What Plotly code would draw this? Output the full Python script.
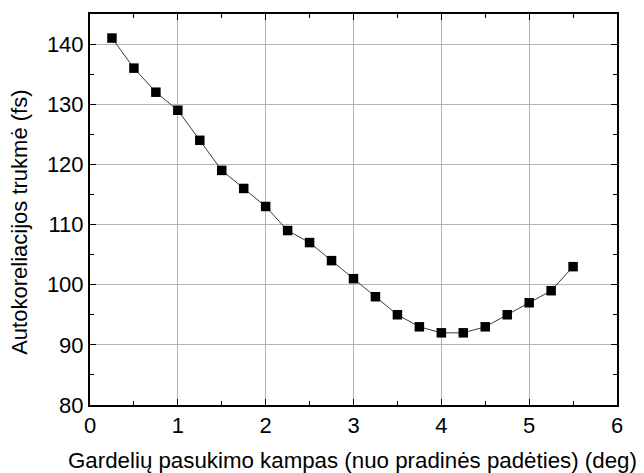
import plotly.graph_objects as go

# Grating rotation angle (deg) and measured autocorrelation duration (fs)
angle_deg = [0.25, 0.5, 0.75, 1.0, 1.25, 1.5, 1.75, 2.0, 2.25, 2.5, 2.75,
             3.0, 3.25, 3.5, 3.75, 4.0, 4.25, 4.5, 4.75, 5.0, 5.25, 5.5]
duration_fs = [141, 136, 132, 129, 124, 119, 116, 113, 109, 107, 104,
               101, 98, 95, 93, 92, 92, 93, 95, 97, 99, 103]

x_title = "Gardelių pasukimo kampas (nuo pradinės padėties) (deg)"
y_title = "Autokoreliacijos trukmė (fs)"

font = "Liberation Sans, Arial, sans-serif"

fig = go.Figure()
fig.add_trace(go.Scatter(
    x=angle_deg, y=duration_fs, mode="lines+markers",
    line=dict(color="#3a3a3a", width=1),
    marker=dict(symbol="square", size=9.5, color="black"),
    showlegend=False,
))

axis_common = dict(
    showline=True, linecolor="black", linewidth=2, mirror="ticks",
    ticks="inside", ticklen=6, tickwidth=1, tickcolor="black",
    showgrid=True, gridcolor="#b4b4b4", gridwidth=1,
    zeroline=False,
    tickfont=dict(family=font, size=22, color="black"),
)

fig.update_xaxes(
    range=[0, 6], dtick=1, tick0=0,
    minor=dict(dtick=0.5, ticks="inside", ticklen=4, tickcolor="black", showgrid=False),
    **axis_common,
)
fig.update_yaxes(
    range=[80, 145], dtick=10, tick0=80,
    minor=dict(dtick=5, ticks="inside", ticklen=4, tickcolor="black", showgrid=False),
    **axis_common,
)

# Axis titles placed as annotations
fig.add_annotation(
    text=x_title, xref="paper", yref="paper", x=0.498, y=-0.1425,
    showarrow=False, xanchor="center", yanchor="middle",
    font=dict(family=font, size=22.3, color="black"),
)
fig.add_annotation(
    text=y_title, xref="paper", yref="paper", x=-0.1328, y=0.466,
    showarrow=False, xanchor="center", yanchor="middle", textangle=-90,
    font=dict(family=font, size=22, color="black"),
)

fig.update_layout(
    width=644, height=473,
    margin=dict(l=90, r=27, t=12, b=68),
    paper_bgcolor="white", plot_bgcolor="white",
)

fig.write_html("out.html")
